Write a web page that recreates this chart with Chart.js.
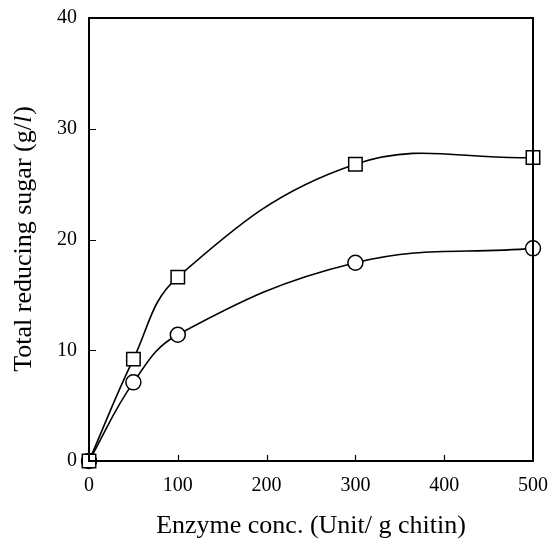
<!DOCTYPE html>
<html>
<head>
<meta charset="utf-8">
<script src="https://cdn.jsdelivr.net/npm/chart.js@4/dist/chart.umd.min.js"></script>
<style>
html,body{margin:0;padding:0;background:#fff;}
#wrap{width:551px;height:542px;position:relative;}
</style>
</head>
<body>
<div id="wrap"><canvas id="c" width="551" height="542"></canvas></div>
<script>
const enzymeConc = [0, 50, 100, 300, 500];
const squareSeries = [0, 9.2, 16.6, 26.8, 27.4];
const circleSeries = [0, 7.1, 11.4, 17.9, 19.2];
const xTicks = [0, 100, 200, 300, 400, 500];
const yTicks = [0, 10, 20, 30, 40];
const xTitle = 'Enzyme conc. (Unit/ g chitin)';
const yTitleMain = 'Total reducing sugar (g/';
const yTitleItalic = 'l';
const yTitleEnd = ')';

const FONT = '"Liberation Serif", "DejaVu Serif", serif';
const Y_TITLE_SIZE = 26;
const X_TITLE_SIZE = 26;

const frame = {
  id: 'frame',
  afterDatasetsDraw(chart) {
    const {ctx, chartArea: a, scales} = chart;
    ctx.save();
    ctx.strokeStyle = '#000';
    ctx.lineWidth = 2;
    ctx.strokeRect(a.left, a.top, a.right - a.left, a.bottom - a.top);
    ctx.lineWidth = 1.2;
    ctx.beginPath();
    xTicks.slice(1, -1).forEach(v => {
      const px = Math.round(scales.x.getPixelForValue(v)) + 0.5;
      ctx.moveTo(px, a.bottom); ctx.lineTo(px, a.bottom - 6);
    });
    yTicks.slice(1, -1).forEach(v => {
      const py = Math.round(scales.y.getPixelForValue(v)) + 0.5;
      ctx.moveTo(a.left, py); ctx.lineTo(a.left + 7, py);
    });
    ctx.stroke();
    // y title with italic l
    ctx.fillStyle = '#000';
    ctx.translate(24, (a.top + a.bottom) / 2);
    ctx.rotate(-Math.PI / 2);
    ctx.textBaseline = 'middle';
    const fN = Y_TITLE_SIZE + 'px ' + FONT, fI = 'italic ' + Y_TITLE_SIZE + 'px ' + FONT;
    ctx.font = fN; const w1 = ctx.measureText(yTitleMain).width;
    const w3 = ctx.measureText(yTitleEnd).width;
    ctx.font = fI; const w2 = ctx.measureText(yTitleItalic).width;
    let x0 = -(w1 + w2 + w3) / 2;
    ctx.textAlign = 'left';
    ctx.font = fN; ctx.fillText(yTitleMain, x0, 0);
    ctx.font = fI; ctx.fillText(yTitleItalic, x0 + w1, 0);
    ctx.font = fN; ctx.fillText(yTitleEnd, x0 + w1 + w2 + 1, 0);
    ctx.restore();
  }
};

new Chart(document.getElementById('c'), {
  type: 'line',
  data: {
    datasets: [
      {
        label: 'square',
        data: enzymeConc.map((x, i) => ({x, y: squareSeries[i]})),
        borderColor: '#000', borderWidth: 1.6,
        pointStyle: 'rect', pointRadius: 9.5,
        pointBackgroundColor: '#fff', pointBorderColor: '#000', pointBorderWidth: 1.5,
        tension: 0.4, fill: false, clip: false
      },
      {
        label: 'circle',
        data: enzymeConc.map((x, i) => ({x, y: circleSeries[i]})),
        borderColor: '#000', borderWidth: 1.6,
        pointStyle: 'circle', pointRadius: 7.5,
        pointBackgroundColor: '#fff', pointBorderColor: '#000', pointBorderWidth: 1.5,
        tension: 0.4, fill: false, clip: false
      }
    ]
  },
  options: {
    responsive: false,
    animation: false,
    events: [],
    layout: {padding: {top: 18, right: 18, left: 0, bottom: 0}},
    plugins: {legend: {display: false}, tooltip: {enabled: false}},
    scales: {
      x: {
        type: 'linear', min: 0, max: 500,
        afterBuildTicks: s => { s.ticks = xTicks.map(v => ({value: v})); },
        afterFit: s => { s.height = 81; s.paddingLeft = 0; s.paddingRight = 0; },
        grid: {display: false},
        border: {display: false},
        ticks: {color: '#000', font: {family: FONT, size: 20}, padding: 5, maxRotation: 0},
        title: {display: true, text: xTitle, color: '#000', font: {family: FONT, size: X_TITLE_SIZE}, padding: {top: 8, bottom: 0}}
      },
      y: {
        type: 'linear', min: 0, max: 40,
        afterBuildTicks: s => { s.ticks = yTicks.map(v => ({value: v})); },
        afterFit: s => { s.width = 89; s.paddingTop = 0; s.paddingBottom = 0; },
        grid: {display: false},
        border: {display: false},
        ticks: {color: '#000', font: {family: FONT, size: 20}, padding: 4}
      }
    }
  },
  plugins: [frame]
});
</script>
</body>
</html>
